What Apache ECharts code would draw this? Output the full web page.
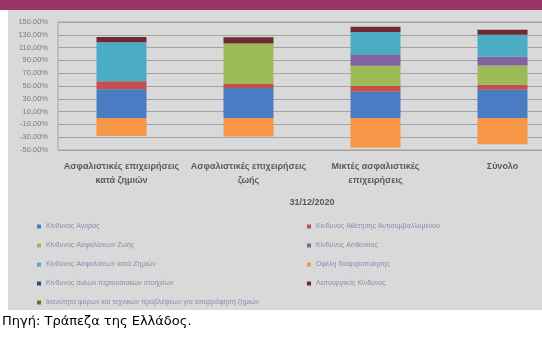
<!DOCTYPE html>
<html>
<head>
<meta charset="utf-8">
<script src="https://cdn.jsdelivr.net/npm/echarts@6/dist/echarts.min.js"></script>
<style>
html,body{margin:0;padding:0;background:#fff;}
#c{width:542px;height:340px;}
</style>
</head>
<body>
<div id="c"></div>
<script>
const categories = ['Ασφαλιστικές επιχειρήσεις\nκατά ζημιών', 'Ασφαλιστικές επιχειρήσεις\nζωής', 'Μικτές ασφαλιστικές\nεπιχειρήσεις', 'Σύνολο'];
const marketRisk = [45, 47, 41, 44];
const defaultRisk = [12.5, 6, 9.5, 8];
const lifeRisk = [0, 63.5, 31, 30];
const healthRisk = [0, 0, 18, 14];
const nonLifeRisk = [61, 0, 35, 34];
const opRisk = [8, 9.5, 8, 8];
const intangibleRisk = [0, 0, 0, 0];
const diversification = [-28, -29, -46, -41];
const taxAbsorption = [0, 0, 0, 0];
const yTicks = [-50, -30, -10, 10, 30, 50, 70, 90, 110, 130, 150];
const xAxisTitle = '31/12/2020';
const sourceText = 'Πηγή: Τράπεζα της Ελλάδος.';

const names = {
  market: 'Κίνδυνος Αγοράς',
  def: 'Κίνδυνος Αθέτησης Αντισυμβαλλομένου',
  life: 'Κίνδυνος Ασφαλίσεων Ζωής',
  health: 'Κίνδυνος Ασθενείας',
  nonlife: 'Κίνδυνος Ασφαλίσεων κατά Ζημιών',
  div: 'Οφέλη διαφοροποίησης',
  intang: 'Κίνδυνος άυλων περιουσιακών στοιχείων',
  op: 'Λειτουργικός Κίνδυνος',
  tax: 'Ικανότητα φόρων και τεχνικών προβλέψεων για απορρόφηση ζημιών'
};
const colors = {
  market: '#4a7cc4', def: '#c4504e', life: '#9bbb59', health: '#8064a2',
  nonlife: '#4bacc6', div: '#f79646', intang: '#2c4d75', op: '#6e2a2e', tax: '#5f7530'
};
function s(key, data) {
  return { name: names[key], type: 'bar', stack: 'a', data: data, barWidth: 50,
    itemStyle: { color: colors[key] } };
}
const chart = echarts.init(document.getElementById('c'));
const legendText = { color: '#8192aa', fontSize: 7, fontFamily: 'Liberation Sans', lineHeight: 9 };
chart.setOption({
  animation: false,
  backgroundColor: '#ffffff',
  graphic: [
    { type: 'rect', shape: { x: 8, y: 10, width: 534, height: 300 }, style: { fill: '#d9d9d9' }, z: -10 },
    { type: 'rect', shape: { x: 0, y: 0, width: 542, height: 10 }, style: { fill: '#9b3465' }, z: -10 },
    { type: 'text', left: 2, top: 315, style: { text: sourceText, fontSize: 13, fontFamily: 'DejaVu Sans', fill: '#000' } }
  ],
  grid: { left: 58, top: 22, width: 508, height: 128, outerBoundsMode: 'none', containLabel: false,
    show: true, borderColor: '#a3a3a3', borderWidth: 1, backgroundColor: 'transparent' },
  legend: [
    { orient: 'vertical', left: 37, top: 222, padding: 0, itemWidth: 4, itemHeight: 4, itemGap: 10, icon: 'rect', textStyle: legendText,
      data: [names.market, names.life, names.nonlife, names.intang, names.tax] },
    { orient: 'vertical', left: 307, top: 222, padding: 0, itemWidth: 4, itemHeight: 4, itemGap: 10, icon: 'rect', textStyle: legendText,
      data: [names.def, names.health, names.div, names.op] }
  ],
  xAxis: {
    type: 'category', data: categories,
    axisLine: { show: false }, axisTick: { show: false },
    axisLabel: { color: '#5a5a5a', fontSize: 9, fontWeight: 'bold', fontFamily: 'Liberation Sans', lineHeight: 14, margin: 10, interval: 0 },
    name: xAxisTitle, nameLocation: 'middle', nameGap: 48,
    nameTextStyle: { color: '#5a5a5a', fontSize: 9, fontWeight: 'bold', fontFamily: 'Liberation Sans' }
  },
  yAxis: {
    type: 'value', min: yTicks[0], max: yTicks[yTicks.length - 1], interval: 20,
    axisLine: { show: false }, axisTick: { show: false },
    splitLine: { lineStyle: { color: '#a3a3a3', width: 1 } },
    axisLabel: { color: '#7a7a7a', fontSize: 7.5, fontFamily: 'Liberation Sans', margin: 10,
      formatter: v => v.toFixed(2).replace('.', ',') + '%' }
  },
  series: [
    s('market', marketRisk), s('def', defaultRisk), s('life', lifeRisk), s('health', healthRisk),
    s('nonlife', nonLifeRisk), s('op', opRisk), s('intang', intangibleRisk),
    s('div', diversification), s('tax', taxAbsorption)
  ]
});
</script>
</body>
</html>
